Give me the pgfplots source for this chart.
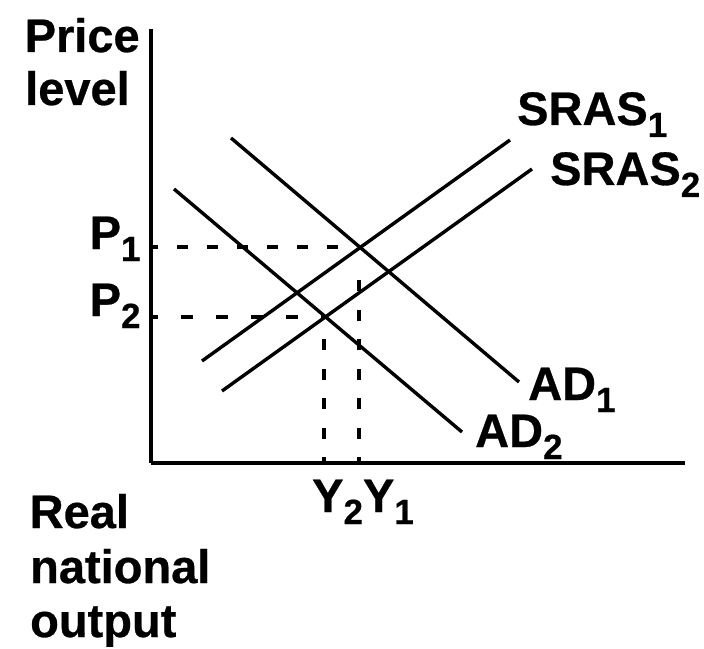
\documentclass[border=0pt]{standalone}
\usepackage{fontspec}
\setmainfont{Liberation Sans}[BoldFeatures={FakeBold=0.6}]
\usepackage{pgfplots}
\pgfplotsset{compat=1.18}
\newcommand{\sub}[1]{\raisebox{-12pt}{\fontsize{35}{35}\selectfont\bfseries #1}}
\tikzset{lbl/.style={anchor=base west, inner sep=0pt, font=\fontsize{47}{47}\selectfont\bfseries}}
\begin{document}
\begin{tikzpicture}
\begin{axis}[
  scale only axis, width=534pt, height=434pt,
  xmin=151, xmax=685, ymin=185, ymax=619,
  axis lines=left, axis line style={-, line width=3.8pt},
  xtick=\empty, ytick=\empty, clip=false,
]
% page frame 704 x 648
\path (axis cs:0,0) rectangle (axis cs:704,648);
% SRAS1, SRAS2
\addplot[black, line width=3.4pt, no markers] coordinates {(202,287) (510,508)};
\addplot[black, line width=3.4pt, no markers] coordinates {(222,257) (532,479)};
% AD1, AD2
\addplot[black, line width=3.4pt, no markers] coordinates {(231,510) (519,266)};
\addplot[black, line width=3.4pt, no markers] coordinates {(174,459) (462,216)};
% dashed guides
\addplot[draw=black, no markers, dash pattern={on 11pt off 19pt}, dash phase=4pt, line width=3.4pt] coordinates {(151,401) (357,401)};
\addplot[draw=black, no markers, dash pattern={on 12pt off 23pt}, dash phase=5pt, line width=3.4pt] coordinates {(151,331) (324,331)};
\addplot[draw=black, no markers, dash pattern={on 11pt off 18.5pt}, dash phase=5pt, line width=3.4pt] coordinates {(359,185) (359,368)};
\addplot[draw=black, no markers, dash pattern={on 11pt off 18.5pt}, dash phase=5pt, line width=3.4pt] coordinates {(324,185) (324,309)};
% labels
\node[lbl] at (axis cs:24.5,596) {Price};
\node[lbl] at (axis cs:25,543) {level};
\node[lbl] at (axis cs:89.5,399) {P\sub{1}};
\node[lbl] at (axis cs:89.5,332) {P\sub{2}};
\node[lbl] at (axis cs:517,523) {SRAS\sub{1}};
\node[lbl] at (axis cs:550,463) {SRAS\sub{2}};
\node[lbl] at (axis cs:528,248) {AD\sub{1}};
\node[lbl] at (axis cs:475,201) {AD\sub{2}};
\node[lbl] at (axis cs:312,136) {Y\sub{2}Y\sub{1}};
\node[lbl] at (axis cs:29.5,120) {Real};
\node[lbl] at (axis cs:30,65) {national};
\node[lbl] at (axis cs:30,11) {output};
\end{axis}
\end{tikzpicture}
\end{document}
